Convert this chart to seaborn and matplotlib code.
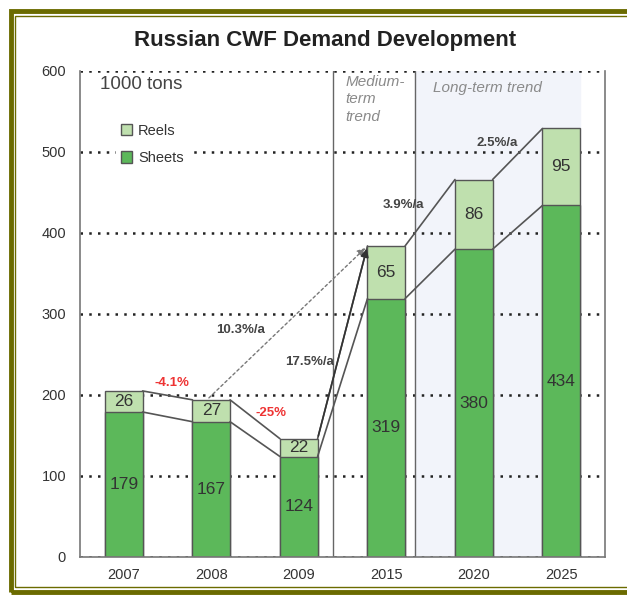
import matplotlib.pyplot as plt
import matplotlib.patches as mpatches
import seaborn as sns
import pandas as pd

years = ["2007", "2008", "2009", "2015", "2020", "2025"]
sheets = [179, 167, 124, 319, 380, 434]
reels = [26, 27, 22, 65, 86, 95]
growth_labels = ["10.3%/a", "17.5%/a", "-4.1%", "-25%", "3.9%/a", "2.5%/a"]

sheet_col = "#5cb85a"
reel_col = "#bfe0ae"
edge = "#555555"
bw = 0.43

df = pd.DataFrame({"year": years, "sheets": sheets, "reels": reels})
df["total"] = df["sheets"] + df["reels"]

sns.set_style("white")
plt.rcParams['font.family'] = ['Liberation Sans', 'DejaVu Sans']

fig = plt.figure(figsize=(6.27, 5.95), dpi=100)
ax = fig.add_axes([0.1276, 0.0639, 0.8374, 0.8168])

# shaded long-term region + separators
ax.axvspan(3.33, 5 + bw / 2, color="#f2f4fa", zorder=0.1)
ax.axvline(2.39, color="#666666", lw=1, zorder=1.5)
ax.axvline(3.33, color="#666666", lw=1, zorder=1.5)

sns.barplot(data=df, x="year", y="total", color=reel_col, width=bw, saturation=1,
            edgecolor=edge, linewidth=1, ax=ax, label="Reels")
sns.barplot(data=df, x="year", y="sheets", color=sheet_col, width=bw, saturation=1,
            edgecolor=edge, linewidth=1, ax=ax, label="Sheets")

# value labels
for i in range(len(years)):
    ax.text(i, sheets[i] / 2, str(sheets[i]), ha="center", va="center", fontsize=12.5, color="#333333", zorder=5)
    ax.text(i, sheets[i] + reels[i] / 2, str(reels[i]), ha="center", va="center", fontsize=12.5, color="#333333", zorder=5)

# connecting lines between bars
tot = df["total"].tolist()
for i in range(len(years) - 1):
    ax.plot([i + bw / 2, i + 1 - bw / 2], [tot[i], tot[i + 1]], color=edge, lw=1.2, zorder=3)
    ax.plot([i + bw / 2, i + 1 - bw / 2], [sheets[i], sheets[i + 1]], color=edge, lw=1.2, zorder=3)

# arrows to 2015
ax.annotate("", xy=(3 - bw / 2, tot[3]), xytext=(0.95, tot[1]),
            arrowprops=dict(arrowstyle="-|>", color="#777777", ls=(0, (2, 2)), lw=1, mutation_scale=12), zorder=4)
ax.annotate("", xy=(3 - bw / 2, tot[3]), xytext=(2 + bw / 2, tot[2]),
            arrowprops=dict(arrowstyle="-|>", color="#333333", lw=1.2, mutation_scale=12), zorder=4)

# growth annotations
gpos = [(1.33, 280), (2.12, 241), (0.55, 215), (1.68, 178), (3.2, 435), (4.27, 511)]
gcol = ["#444444", "#444444", "#ee3333", "#ee3333", "#444444", "#444444"]
for lab, (x, y), c in zip(growth_labels, gpos, gcol):
    ax.text(x, y, lab, ha="center", va="center", fontsize=9.5, fontweight="bold", color=c, zorder=6)

ax.text(2.53, 595, "Medium-\nterm\ntrend", ha="left", va="top", fontsize=11, style="italic",
        color="#8a8a8a", linespacing=1.3)
ax.text(3.53, 579, "Long-term trend", ha="left", va="center", fontsize=11, style="italic", color="#8a8a8a")
ax.text(-0.27, 583, "1000 tons", ha="left", va="center", fontsize=13.5, color="#444444")

handles = [mpatches.Patch(facecolor=reel_col, edgecolor=edge, label="Reels"),
           mpatches.Patch(facecolor=sheet_col, edgecolor=edge, label="Sheets")]
leg = ax.legend(handles=handles, loc="upper left", bbox_to_anchor=(0.055, 0.915), frameon=True,
                facecolor="white", edgecolor="none", framealpha=1, handlelength=0.8, handleheight=0.8,
                handletextpad=0.4, labelspacing=0.9, fontsize=10.5, borderpad=0.3)
for t in leg.get_texts():
    t.set_color("#333333")

ax.set_ylim(0, 600)
ax.set_xlim(-0.5, 5.5)
ax.set_yticks(range(0, 601, 100))
ax.set_yticks(range(0, 601, 20), minor=True)
ax.grid(axis="y", which="major", color="#222222", ls=(0, (1, 2.5)), lw=1.8)
ax.set_axisbelow(True)
ax.set_xlabel("")
ax.set_ylabel("")
ax.tick_params(axis="y", which="both", direction="in", length=4, color="#666666", labelsize=10.5, labelcolor="#333333", pad=10)
ax.tick_params(axis="x", length=0, labelsize=10.5, labelcolor="#333333", pad=8)
ax.spines["top"].set_visible(False)
for s in ["left", "bottom", "right"]:
    ax.spines[s].set_color("#777777")
    ax.spines[s].set_linewidth(1.2)

fig.text(0.518, 0.932, "Russian CWF Demand Development", ha="center", va="center",
         fontsize=16, fontweight="bold", color="#222222")

# olive double frame
W, H = 627, 595
fig.patches.append(mpatches.Rectangle((10.5 / W, 3.5 / H), 1.0, (H - 10.5 - 3.5) / H, transform=fig.transFigure,
                                      fill=False, edgecolor="#6b6b00", lw=3.5, zorder=10))
fig.patches.append(mpatches.Rectangle((15.5 / W, 8.5 / H), 1.0, (H - 15.5 - 8.5) / H, transform=fig.transFigure,
                                      fill=False, edgecolor="#6b6b00", lw=1, zorder=10))

fig.savefig("out.png", dpi=100)
